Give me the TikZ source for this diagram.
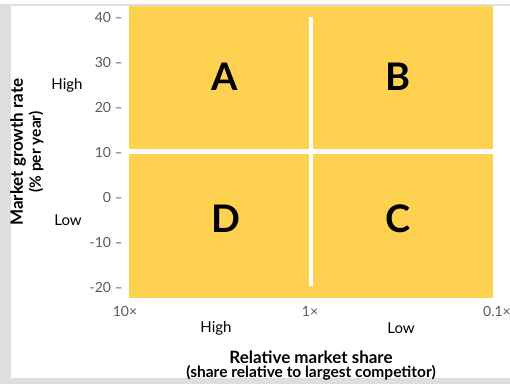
\documentclass[tikz,border=0pt]{standalone}
\usepackage{fontspec}
\setmainfont{Lato}
\definecolor{cellorange}{HTML}{FFD150}
\definecolor{tickgray}{HTML}{5A5A5A}
\definecolor{framegray}{HTML}{DEDEDE}
\tikzset{
  quadlabel/.style={font=\fontsize{38}{38}\selectfont\bfseries},
  ticklabel/.style={anchor=east, text=tickgray, font=\fontsize{14}{15}\selectfont, inner sep=0pt},
  scalelabel/.style={text=tickgray, font=\fontsize{14}{15}\selectfont, inner sep=0pt},
  levellabel/.style={font=\fontsize{15}{16}\selectfont, inner sep=0pt},
  axistitle/.style={font=\fontsize{17}{18}\selectfont\bfseries, inner sep=0pt},
  subtitle/.style={font=\fontsize{15.5}{16}\selectfont\bfseries, inner sep=0pt},
  divider/.style={white, line width=4.5pt}
}
\begin{document}
\begin{tikzpicture}[x=1pt,y=-1pt]
\useasboundingbox (0,0) rectangle (510,384);
\fill[white] (0,0) rectangle (510,384);
% frame
\fill[framegray] (0,4) rectangle (11,384);
\fill[framegray] (11,4) rectangle (510,6);
\fill[framegray] (11,378) rectangle (510,384);
% matrix
\fill[cellorange] (129,6) rectangle (493,298);
\coordinate (hl) at (129,151.5);
\coordinate (hr) at (493,151.5);
\coordinate (vt) at (311,17);
\coordinate (vb) at (311,286);
\draw[divider] (hl) -- (hr);
\draw[divider] (vt) -- (vb);
\node[quadlabel] (A) at (225,77) {A};
\node[quadlabel] (B) at (398,77) {B};
\node[quadlabel] (D) at (226,219) {D};
\node[quadlabel] (C) at (398,219) {C};
% growth axis
\foreach \v [count=\i from 0] in {40,30,20,10,0,-10,-20}
  \node[ticklabel] (y\i) at (123,17+45*\i) {\v\ –};
\node[levellabel] (yhigh) at (67,85) {High};
\node[levellabel] (ylow) at (68,220) {Low};
\node[axistitle, rotate=90] (ytitle) at (18,152) {Market growth rate};
\node[subtitle, rotate=90] (ysub) at (36,152) {(\% per year)};
% share axis
\node[scalelabel] (x10) at (125,311) {10×};
\node[scalelabel] (x1) at (310,311) {1×};
\node[scalelabel] (x01) at (497,311) {0.1×};
\node[levellabel] (xhigh) at (216,328) {High};
\node[levellabel] (xlow) at (401,328) {Low};
\node[axistitle] (xtitle) at (311,357) {Relative market share};
\node[subtitle] (xsub) at (311,373) {(share relative to largest competitor)};
\end{tikzpicture}
\end{document}
